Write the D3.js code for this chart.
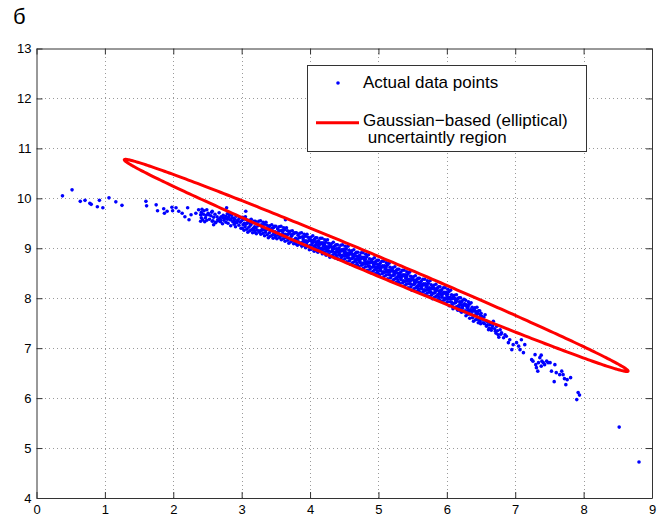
<!DOCTYPE html>
<html>
<head>
<meta charset="utf-8">
<script src="https://cdn.jsdelivr.net/npm/d3@7"></script>
<style>
  body { margin: 0; background: #fff; }
  svg { display: block; }
  text { font-family: "Liberation Sans", Arial, Helvetica, sans-serif; fill: #000; }
</style>
</head>
<body>
<svg id="chart" width="659" height="520"></svg>
<script>
// Axis ranges and tick labels
const xDomain = [0, 9];
const yDomain = [4, 13];
const xTicks = [0, 1, 2, 3, 4, 5, 6, 7, 8, 9];
const yTicks = [4, 5, 6, 7, 8, 9, 10, 11, 12, 13];

const panelLabel = "б";
const legendLabels = ["Actual data points", "Gaussian\u2212based (elliptical)", " uncertaintly region"];

// Uncertainty ellipse: centre and its two semi-axis vectors (data units)
const ellipseCenter = [4.967, 8.657];
const ellipseMajor = [3.683, -2.117];
const ellipseMinor = [0.052, 0.170];

// Measured points [x, y]
const dataPoints = [
  // sparse left tail
  [0.38,10.05],[0.52,10.17],[0.64,9.94],[0.71,9.96],[0.78,9.90],[0.80,9.88],[0.89,9.83],[0.92,9.96],[0.97,9.81],[1.06,10.01],[1.16,9.93],[1.25,9.86],
  [1.60,9.94],[1.61,9.85],[1.75,9.87],[1.77,9.75],[1.86,9.79],[1.87,9.70],[1.91,9.74],[1.98,9.82],[1.99,9.75],[2.04,9.81],[2.08,9.74],[2.13,9.70],[2.17,9.63],[2.21,9.81],[2.23,9.57],[2.26,9.67],[2.33,9.70],[2.37,9.77],[2.40,9.67],[2.41,9.61],[2.40,9.54],[2.42,9.78],[2.49,9.77],[2.52,9.67],[2.56,9.72],[2.57,9.54],[2.59,9.47],[2.62,9.52],[2.66,9.55],[2.69,9.57],[2.73,9.61],[2.77,9.64],[2.78,9.81],[2.82,9.67],[2.84,9.57],[2.86,9.61],[2.89,9.54],[2.91,9.51],[2.95,9.57],
  // 2.4 - 3.0
  [2.41,9.72],[2.43,9.57],[2.45,9.75],[2.47,9.61],[2.48,9.66],[2.46,9.53],[2.44,9.68],[2.49,9.56],
  [2.51,9.70],[2.53,9.58],[2.55,9.65],[2.57,9.74],[2.58,9.55],[2.59,9.62],
  [2.61,9.68],[2.62,9.51],[2.64,9.63],[2.65,9.57],[2.67,9.71],[2.68,9.60],[2.69,9.53],
  [2.70,9.63],[2.72,9.49],[2.73,9.66],[2.74,9.56],[2.76,9.60],[2.77,9.52],[2.79,9.69],[2.79,9.58],
  [2.80,9.50],[2.81,9.62],[2.83,9.57],[2.84,9.45],[2.85,9.66],[2.87,9.53],[2.88,9.60],[2.89,9.48],
  [2.90,9.58],[2.91,9.43],[2.92,9.64],[2.93,9.51],[2.94,9.55],[2.96,9.46],[2.97,9.61],[2.98,9.52],[2.99,9.40],
  [3.06,9.74],[3.64,9.57],
  // 3.0 - 4.0
  [3.000,9.55],[3.010,9.40],[3.015,9.62],[3.020,9.47],[3.030,9.58],[3.035,9.36],[3.040,9.50],[3.050,9.43],[3.055,9.63],[3.060,9.48],[3.070,9.57],[3.075,9.38],[3.080,9.50],[3.090,9.32],[3.095,9.53],
  [3.105,9.42],[3.110,9.56],[3.120,9.35],[3.125,9.49],[3.130,9.46],[3.140,9.58],[3.145,9.37],[3.150,9.50],[3.160,9.31],[3.165,9.52],[3.170,9.40],[3.180,9.54],[3.185,9.36],[3.190,9.43],[3.195,9.32],
  [3.200,9.54],[3.210,9.41],[3.215,9.29],[3.225,9.49],[3.230,9.36],[3.240,9.45],[3.250,9.54],[3.255,9.32],[3.260,9.46],[3.270,9.35],[3.275,9.55],[3.280,9.28],[3.290,9.47],[3.295,9.36],[3.300,9.41],
  [3.300,9.45],[3.310,9.30],[3.315,9.52],[3.320,9.37],[3.330,9.48],[3.335,9.25],[3.340,9.39],[3.350,9.32],[3.355,9.52],[3.360,9.37],[3.370,9.46],[3.375,9.27],[3.380,9.39],[3.390,9.21],[3.395,9.42],
  [3.405,9.31],[3.410,9.45],[3.420,9.24],[3.425,9.38],[3.430,9.35],[3.440,9.47],[3.445,9.26],[3.450,9.40],[3.460,9.20],[3.465,9.41],[3.470,9.30],[3.480,9.44],[3.485,9.26],[3.490,9.33],[3.495,9.22],
  [3.500,9.44],[3.510,9.31],[3.515,9.19],[3.525,9.39],[3.530,9.26],[3.540,9.34],[3.550,9.43],[3.555,9.21],[3.560,9.35],[3.570,9.24],[3.575,9.44],[3.580,9.17],[3.590,9.36],[3.595,9.25],[3.600,9.30],
  [3.600,9.34],[3.610,9.19],[3.615,9.41],[3.620,9.26],[3.630,9.37],[3.635,9.14],[3.640,9.28],[3.650,9.21],[3.655,9.41],[3.660,9.26],[3.670,9.35],[3.675,9.16],[3.680,9.28],[3.690,9.10],[3.695,9.31],
  [3.705,9.20],[3.710,9.34],[3.720,9.13],[3.725,9.27],[3.730,9.24],[3.740,9.35],[3.745,9.15],[3.750,9.28],[3.760,9.09],[3.765,9.30],[3.770,9.17],[3.780,9.31],[3.785,9.13],[3.790,9.20],[3.795,9.09],
  [3.800,9.31],[3.810,9.18],[3.815,9.06],[3.825,9.26],[3.830,9.13],[3.840,9.21],[3.850,9.30],[3.855,9.08],[3.860,9.22],[3.870,9.11],[3.875,9.31],[3.880,9.04],[3.890,9.23],[3.895,9.12],[3.900,9.17],
  [3.900,9.21],[3.910,9.06],[3.915,9.28],[3.920,9.13],[3.930,9.24],[3.935,9.01],[3.940,9.15],[3.950,9.08],[3.955,9.28],[3.960,9.13],[3.970,9.22],[3.975,9.03],[3.980,9.15],[3.990,8.97],[3.995,9.18],
  // 4.0 - 5.0
  [4.005,9.06],[4.010,9.22],[4.020,8.98],[4.025,9.14],[4.030,9.11],[4.040,9.25],[4.045,9.01],[4.050,9.16],[4.060,8.94],[4.065,9.18],[4.070,9.05],[4.080,9.21],[4.085,9.00],[4.090,9.08],[4.095,8.95],
  [4.012,9.16],[4.028,9.07],[4.048,9.12],[4.068,9.04],[4.088,9.13],
  [4.100,9.21],[4.110,9.06],[4.115,8.92],[4.125,9.15],[4.130,9.00],[4.140,9.09],[4.150,9.20],[4.155,8.95],[4.160,9.11],[4.170,8.97],[4.175,9.20],[4.180,8.89],[4.190,9.11],[4.195,8.98],[4.200,9.04],
  [4.112,9.12],[4.128,9.03],[4.148,9.08],[4.168,9.00],[4.188,9.08],
  [4.200,9.09],[4.210,8.92],[4.215,9.17],[4.220,9.00],[4.230,9.12],[4.235,8.86],[4.240,9.02],[4.250,8.94],[4.255,9.17],[4.260,9.00],[4.270,9.10],[4.275,8.89],[4.280,9.02],[4.290,8.82],[4.295,9.06],
  [4.212,9.07],[4.228,8.98],[4.248,9.03],[4.268,8.95],[4.288,9.04],
  [4.305,8.93],[4.310,9.09],[4.320,8.85],[4.325,9.01],[4.330,8.98],[4.340,9.12],[4.345,8.88],[4.350,9.03],[4.360,8.81],[4.365,9.05],[4.370,8.91],[4.380,9.07],[4.385,8.86],[4.390,8.94],[4.395,8.81],
  [4.312,9.03],[4.328,8.94],[4.348,8.99],[4.368,8.92],[4.388,8.99],
  [4.400,9.07],[4.410,8.92],[4.415,8.78],[4.425,9.01],[4.430,8.86],[4.440,8.95],[4.450,9.06],[4.455,8.81],[4.460,8.97],[4.470,8.84],[4.475,9.07],[4.480,8.76],[4.490,8.98],[4.495,8.85],[4.500,8.91],
  [4.412,8.98],[4.428,8.89],[4.448,8.94],[4.468,8.86],[4.488,8.95],
  [4.500,8.96],[4.510,8.79],[4.515,9.04],[4.520,8.87],[4.530,8.99],[4.535,8.73],[4.540,8.89],[4.550,8.81],[4.555,9.04],[4.560,8.87],[4.570,8.96],[4.575,8.75],[4.580,8.88],[4.590,8.68],[4.595,8.92],
  [4.512,8.94],[4.528,8.85],[4.548,8.90],[4.568,8.81],[4.588,8.90],
  [4.605,8.79],[4.610,8.95],[4.620,8.71],[4.625,8.87],[4.630,8.84],[4.640,8.97],[4.645,8.73],[4.650,8.88],[4.660,8.66],[4.665,8.90],[4.670,8.76],[4.680,8.92],[4.685,8.71],[4.690,8.79],[4.695,8.66],
  [4.612,8.89],[4.628,8.80],[4.648,8.84],[4.668,8.78],[4.688,8.84],
  [4.700,8.92],[4.710,8.77],[4.715,8.63],[4.725,8.86],[4.730,8.71],[4.740,8.80],[4.750,8.91],[4.755,8.66],[4.760,8.82],[4.770,8.68],[4.775,8.91],[4.780,8.60],[4.790,8.82],[4.795,8.69],[4.800,8.75],
  [4.712,8.83],[4.728,8.74],[4.748,8.79],[4.768,8.70],[4.788,8.79],
  [4.800,8.80],[4.810,8.63],[4.815,8.88],[4.820,8.71],[4.830,8.83],[4.835,8.56],[4.840,8.72],[4.850,8.64],[4.855,8.87],[4.860,8.70],[4.870,8.79],[4.875,8.58],[4.880,8.71],[4.890,8.51],[4.895,8.75],
  [4.812,8.78],[4.828,8.69],[4.848,8.73],[4.868,8.64],[4.888,8.73],
  [4.905,8.62],[4.910,8.78],[4.920,8.54],[4.925,8.70],[4.930,8.67],[4.940,8.81],[4.945,8.57],[4.950,8.72],[4.960,8.50],[4.965,8.74],[4.970,8.60],[4.980,8.76],[4.985,8.55],[4.990,8.63],[4.995,8.50],
  [4.912,8.72],[4.928,8.63],[4.948,8.68],[4.968,8.62],[4.988,8.68],
  // 5.0 - 6.0
  [5.000,8.76],[5.010,8.61],[5.015,8.47],[5.025,8.70],[5.030,8.55],[5.040,8.63],[5.050,8.74],[5.055,8.49],[5.060,8.65],[5.070,8.51],[5.075,8.74],[5.080,8.43],[5.090,8.65],[5.095,8.52],[5.100,8.58],
  [5.012,8.67],[5.028,8.58],[5.048,8.62],[5.068,8.53],[5.088,8.62],
  [5.100,8.63],[5.110,8.46],[5.115,8.71],[5.120,8.54],[5.130,8.66],[5.135,8.39],[5.140,8.55],[5.150,8.47],[5.155,8.70],[5.160,8.53],[5.170,8.62],[5.175,8.41],[5.180,8.54],[5.190,8.34],[5.195,8.58],
  [5.112,8.61],[5.128,8.52],[5.148,8.56],[5.168,8.47],[5.188,8.56],
  [5.205,8.45],[5.210,8.61],[5.220,8.37],[5.225,8.53],[5.230,8.50],[5.240,8.63],[5.245,8.39],[5.250,8.54],[5.260,8.32],[5.265,8.56],[5.270,8.42],[5.280,8.58],[5.285,8.37],[5.290,8.45],[5.295,8.32],
  [5.212,8.55],[5.228,8.46],[5.248,8.50],[5.268,8.41],[5.288,8.50],
  [5.300,8.58],[5.310,8.43],[5.315,8.29],[5.325,8.52],[5.330,8.37],[5.340,8.45],[5.350,8.56],[5.355,8.31],[5.360,8.47],[5.370,8.33],[5.375,8.56],[5.380,8.25],[5.390,8.47],[5.395,8.34],[5.400,8.40],
  [5.312,8.49],[5.328,8.40],[5.348,8.44],[5.368,8.35],[5.388,8.44],
  [5.400,8.45],[5.410,8.28],[5.415,8.53],[5.420,8.36],[5.430,8.48],[5.435,8.21],[5.440,8.37],[5.450,8.29],[5.455,8.52],[5.460,8.35],[5.470,8.44],[5.475,8.23],[5.480,8.36],[5.490,8.16],[5.495,8.40],
  [5.412,8.43],[5.428,8.34],[5.448,8.38],[5.468,8.29],[5.488,8.38],
  [5.505,8.27],[5.510,8.43],[5.520,8.19],[5.525,8.35],[5.530,8.32],[5.540,8.45],[5.545,8.21],[5.550,8.36],[5.560,8.14],[5.565,8.38],[5.570,8.24],[5.580,8.40],[5.585,8.19],[5.590,8.27],[5.595,8.14],
  [5.512,8.37],[5.528,8.28],[5.548,8.32],[5.568,8.23],[5.588,8.32],
  [5.600,8.40],[5.610,8.25],[5.615,8.11],[5.625,8.34],[5.630,8.19],[5.640,8.27],[5.650,8.38],[5.655,8.13],[5.660,8.29],[5.670,8.15],[5.675,8.38],[5.680,8.07],[5.690,8.29],[5.695,8.16],[5.700,8.22],
  [5.612,8.31],[5.628,8.22],[5.648,8.26],[5.668,8.17],[5.688,8.26],
  [5.700,8.27],[5.710,8.10],[5.715,8.35],[5.720,8.18],[5.730,8.30],[5.735,8.04],[5.740,8.20],[5.750,8.12],[5.755,8.35],[5.760,8.18],[5.770,8.27],[5.775,8.06],[5.780,8.19],[5.790,7.99],[5.795,8.23],
  [5.712,8.25],[5.728,8.16],[5.748,8.21],[5.768,8.12],[5.788,8.21],
  [5.805,8.10],[5.810,8.26],[5.820,8.02],[5.825,8.18],[5.830,8.15],[5.840,8.28],[5.845,8.04],[5.850,8.19],[5.860,7.97],[5.865,8.21],[5.870,8.07],[5.880,8.23],[5.885,8.02],[5.890,8.10],[5.895,7.97],
  [5.812,8.20],[5.828,8.11],[5.848,8.15],[5.868,8.06],[5.888,8.15],
  [5.900,8.23],[5.910,8.08],[5.915,7.94],[5.925,8.17],[5.930,8.02],[5.940,8.10],[5.950,8.21],[5.955,7.96],[5.960,8.12],[5.970,7.98],[5.975,8.21],[5.980,7.90],[5.990,8.12],[5.995,7.99],[6.000,8.05],
  [5.912,8.14],[5.928,8.05],[5.948,8.09],[5.968,8.00],[5.988,8.09],
  // 6.0 - 6.5
  [6.000,8.10],[6.010,7.93],[6.015,8.18],[6.020,8.01],[6.030,8.13],[6.035,7.85],[6.040,8.01],[6.050,7.93],[6.055,8.16],[6.060,7.99],[6.070,8.07],[6.075,7.86],[6.080,7.99],[6.090,7.79],[6.095,8.03],
  [6.012,8.08],[6.028,7.99],[6.048,8.02],[6.068,7.92],[6.088,8.01],
  [6.105,7.90],[6.110,8.06],[6.120,7.82],[6.125,7.98],[6.130,7.95],[6.140,8.07],[6.145,7.83],[6.150,7.98],[6.160,7.76],[6.165,8.00],[6.170,7.85],[6.180,8.01],[6.185,7.80],[6.190,7.88],[6.195,7.75],
  [6.112,8.00],[6.128,7.91],[6.148,7.94],[6.168,7.84],[6.188,7.93],
  [6.200,8.01],[6.210,7.86],[6.215,7.72],[6.225,7.95],[6.230,7.80],[6.240,7.87],[6.250,7.98],[6.255,7.73],[6.260,7.89],[6.270,7.73],[6.275,7.96],[6.280,7.65],[6.290,7.87],[6.295,7.74],[6.300,7.80],
  [6.212,7.92],[6.228,7.83],[6.248,7.86],[6.268,7.75],[6.288,7.84],
  [6.300,7.85],[6.310,7.68],[6.315,7.93],[6.320,7.76],[6.330,7.88],[6.335,7.60],[6.340,7.76],[6.350,7.68],[6.355,7.91],[6.360,7.74],[6.370,7.82],[6.375,7.61],[6.380,7.74],[6.390,7.54],[6.395,7.78],
  [6.312,7.83],[6.328,7.74],[6.348,7.77],[6.368,7.67],[6.388,7.76],
  [6.405,7.65],[6.410,7.81],[6.420,7.57],[6.425,7.73],[6.430,7.70],[6.440,7.82],[6.445,7.58],[6.450,7.73],[6.460,7.51],[6.465,7.75],[6.470,7.59],[6.480,7.75],[6.485,7.54],[6.490,7.62],[6.495,7.49],
  [6.412,7.75],[6.428,7.66],[6.448,7.69],[6.468,7.58],[6.488,7.67],
  // 6.5 - 6.9
  [6.50,7.70],[6.52,7.58],[6.54,7.62],[6.55,7.49],[6.57,7.55],[6.59,7.46],[6.60,7.52],[6.62,7.40],[6.64,7.50],[6.65,7.36],[6.67,7.45],[6.70,7.39],[6.72,7.30],[6.74,7.35],[6.76,7.22],[6.79,7.28],
  [6.51,7.64],[6.53,7.51],[6.56,7.67],[6.58,7.44],[6.61,7.37],[6.63,7.47],[6.66,7.41],[6.68,7.54],[6.71,7.34],[6.73,7.44],[6.75,7.27],[6.78,7.37],[6.80,7.31],[6.83,7.21],[6.85,7.27],[6.87,7.24],
  // thinning right-hand cloud
  [6.90,7.11],[6.92,7.17],[6.95,6.97],[6.97,7.07],[7.02,7.11],[7.05,7.04],[7.07,6.97],[7.09,7.17],[7.12,6.91],[7.14,7.07],
  [7.24,6.77],[7.26,6.74],[7.29,6.87],[7.30,6.67],[7.31,6.61],[7.33,6.54],[7.34,6.71],[7.36,6.81],[7.38,6.64],[7.38,6.86],[7.39,6.74],[7.41,6.71],[7.43,6.67],[7.46,6.74],[7.48,6.71],[7.51,6.71],[7.53,6.54],[7.58,6.67],[7.57,6.33],[7.60,6.51],[7.65,6.47],[7.68,6.54],[7.70,6.47],[7.72,6.39],[7.74,6.27],[7.76,6.37],[7.81,6.41],
  // far outliers
  [7.92,6.11],[7.94,6.06],[7.90,5.97],[8.52,5.42],[8.81,4.72]
];

const W = 659, H = 520;
const margin = { left: 36.5, right: W - 652, top: 48.5, bottom: H - 498 };
const dotRadius = 1.8;

const svg = d3.select("#chart");

const x = d3.scaleLinear().domain(xDomain).range([margin.left, W - margin.right]);
const y = d3.scaleLinear().domain(yDomain).range([H - margin.bottom, margin.top]);

const [x0, x1] = x.range();
const [y0, y1] = y.range();

// dotted grid
const grid = svg.append("g").attr("stroke", "#9a9a9a").attr("stroke-width", 1)
  .attr("stroke-dasharray", "1,3").attr("shape-rendering", "crispEdges");
grid.selectAll("line.gx").data(xTicks.slice(1, -1)).join("line")
  .attr("x1", d => Math.round(x(d)) + 0.5).attr("x2", d => Math.round(x(d)) + 0.5)
  .attr("y1", y0).attr("y2", y1);
grid.selectAll("line.gy").data(yTicks.slice(1, -1)).join("line")
  .attr("y1", d => Math.round(y(d)) + 0.5).attr("y2", d => Math.round(y(d)) + 0.5)
  .attr("x1", x0).attr("x2", x1);

// scatter
svg.append("g").attr("fill", "#0000ff")
  .selectAll("circle").data(dataPoints).join("circle")
  .attr("cx", d => x(d[0])).attr("cy", d => y(d[1])).attr("r", dotRadius);

// ellipse outline from centre and semi-axes
const ellipsePts = d3.range(0, 361, 1).map(a => {
  const t = a * Math.PI / 180, c = Math.cos(t), s = Math.sin(t);
  return [ellipseCenter[0] + c * ellipseMajor[0] + s * ellipseMinor[0],
          ellipseCenter[1] + c * ellipseMajor[1] + s * ellipseMinor[1]];
});
svg.append("path")
  .attr("d", d3.line().x(d => x(d[0])).y(d => y(d[1])).curve(d3.curveLinearClosed)(ellipsePts))
  .attr("fill", "none").attr("stroke", "#ff0000").attr("stroke-width", 3);

// axes (ticks pointing inward, box on all four sides)
const axisColor = "#333";
function styleAxis(g, showLabels) {
  g.select(".domain").attr("stroke", axisColor);
  g.selectAll(".tick line").attr("stroke", axisColor);
  g.selectAll(".tick text").attr("font-size", 13)
    .attr("font-family", "'Liberation Sans', Arial, Helvetica, sans-serif").attr("fill", "#000");
  if (!showLabels) g.selectAll(".tick text").remove();
}
svg.append("g").attr("transform", `translate(0,${y0})`)
  .call(d3.axisBottom(x).tickValues(xTicks).tickFormat(d3.format("d")).tickSize(-6).tickSizeOuter(0).tickPadding(7))
  .call(g => styleAxis(g, true));
svg.append("g").attr("transform", `translate(0,${y1})`)
  .call(d3.axisTop(x).tickValues(xTicks).tickSize(-6).tickSizeOuter(0))
  .call(g => styleAxis(g, false));
svg.append("g").attr("transform", `translate(${x0},0)`)
  .call(d3.axisLeft(y).tickValues(yTicks).tickFormat(d3.format("d")).tickSize(-6).tickSizeOuter(0).tickPadding(5))
  .call(g => styleAxis(g, true));
svg.append("g").attr("transform", `translate(${x1},0)`)
  .call(d3.axisRight(y).tickValues(yTicks).tickSize(-6).tickSizeOuter(0))
  .call(g => styleAxis(g, false));

// panel label
svg.append("text").attr("x", 13).attr("y", 24).attr("font-size", 22).text(panelLabel);

// legend
const lg = svg.append("g");
lg.append("rect").attr("x", 307.5).attr("y", 65.5).attr("width", 279).attr("height", 86)
  .attr("fill", "#fff").attr("stroke", axisColor);
lg.append("circle").attr("cx", 338).attr("cy", 83).attr("r", dotRadius).attr("fill", "#0000ff");
lg.append("line").attr("x1", 316).attr("x2", 359).attr("y1", 122.7).attr("y2", 122.7)
  .attr("stroke", "#ff0000").attr("stroke-width", 3);
lg.append("text").attr("x", 363).attr("y", 88.3).attr("font-size", 17).text(legendLabels[0]);
lg.append("text").attr("x", 363).attr("y", 126).attr("font-size", 17).text(legendLabels[1]);
lg.append("text").attr("x", 363).attr("y", 143.3).attr("font-size", 17)
  .attr("xml:space", "preserve").style("white-space", "pre").text(legendLabels[2]);
</script>
</body>
</html>
